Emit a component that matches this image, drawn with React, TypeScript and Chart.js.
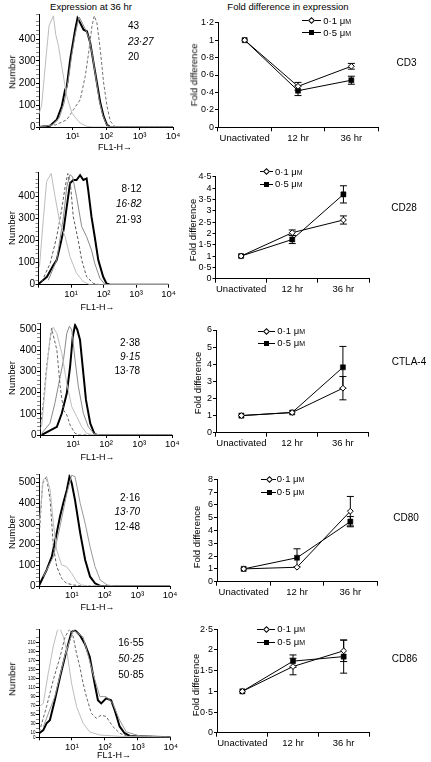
import React, { useEffect, useRef } from 'react';
import { Chart, registerables } from 'chart.js';
Chart.register(...registerables);

const FONT = '"Liberation Sans", Arial, Helvetica, sans-serif';
Chart.defaults.font.family = FONT;
Chart.defaults.color = '#000';

// ---------- Histogram axes ----------
const decadeTicks = [0, 1, 2, 3, 4];
const decadeLabels = ['', '10¹', '10²', '10³', '10⁴'];
const countLabels = [0, 100, 200, 300, 400, 500];
const cd86CountLabels = [0, 10, 30, 50, 70, 90, 110, 130, 150, 170, 190, 210, 230];

// ---------- Histogram curves: [log10 FL1-H, count] ----------
const cd3Iso = [[0, 60], [0.08, 100], [0.2, 300], [0.3, 460], [0.43, 505], [0.5, 420], [0.58, 370], [0.68, 275], [0.83, 140], [0.98, 64], [1.1, 40], [1.23, 18], [1.43, 3], [1.6, 0], [4, 0]];
const cd3Mid = [[0, 0], [0.4, 10], [0.6, 40], [0.75, 110], [0.88, 220], [0.98, 330], [1.08, 420], [1.15, 470], [1.2, 500], [1.3, 470], [1.4, 440], [1.5, 400], [1.6, 320], [1.7, 220], [1.8, 120], [1.9, 55], [2.0, 15], [2.1, 0], [4, 0]];
const cd3Dash = [[0, 0], [0.5, 10], [0.83, 33], [1.03, 79], [1.23, 124], [1.38, 230], [1.48, 336], [1.58, 457], [1.65, 505], [1.73, 473], [1.83, 350], [1.93, 200], [2.03, 94], [2.13, 26], [2.28, 0], [4, 0]];
const cd3Bold = [[0, 0], [0.33, 6], [0.53, 33], [0.68, 94], [0.78, 170], [0.83, 185], [0.93, 306], [1.03, 397], [1.08, 442], [1.15, 495], [1.23, 473], [1.33, 442], [1.43, 435], [1.53, 382], [1.63, 290], [1.73, 200], [1.83, 110], [1.93, 48], [2.03, 10], [2.13, 0], [4, 0]];

const cd28Iso = [[0.03, 82], [0.15, 300], [0.25, 470], [0.39, 506], [0.51, 400], [0.66, 279], [0.82, 218], [0.97, 127], [1.17, 52], [1.38, 14], [1.58, 0], [4, 0]];
const cd28Dash = [[0.1, 14], [0.36, 97], [0.56, 218], [0.71, 340], [0.82, 445], [0.9, 505], [0.99, 445], [1.07, 309], [1.22, 203], [1.33, 112], [1.48, 36], [1.69, 6], [1.9, 0], [4, 0]];
const cd28Mid = [[0.3, 20], [0.56, 112], [0.77, 309], [0.87, 445], [0.97, 500], [1.05, 490], [1.17, 400], [1.33, 264], [1.48, 218], [1.63, 158], [1.73, 97], [1.89, 29], [2.05, 0], [4, 0]];
const cd28Bold = [[0, 3], [0.26, 36], [0.46, 89], [0.56, 112], [0.66, 173], [0.77, 248], [0.87, 355], [0.97, 461], [1.07, 476], [1.17, 476], [1.28, 498], [1.38, 476], [1.48, 483], [1.53, 430], [1.63, 309], [1.73, 218], [1.84, 112], [1.99, 36], [2.09, 6], [2.2, 0], [4, 0]];

const ctla4Iso = [[0.05, 39], [0.2, 300], [0.3, 460], [0.4, 510], [0.51, 480], [0.66, 386], [0.81, 244], [0.96, 134], [1.11, 87], [1.26, 39], [1.41, 8], [1.6, 0], [4, 0]];
const ctla4Dash = [[0, 24], [0.1, 150], [0.2, 323], [0.35, 505], [0.51, 402], [0.61, 229], [0.71, 118], [0.81, 95], [0.91, 47], [1.06, 8], [1.2, 0], [4, 0]];
const ctla4Mid = [[0.05, 8], [0.3, 55], [0.45, 150], [0.61, 276], [0.71, 355], [0.81, 481], [0.89, 515], [0.96, 497], [1.06, 355], [1.16, 229], [1.31, 103], [1.46, 39], [1.62, 8], [1.8, 0], [4, 0]];
const ctla4Bold = [[0.05, 0], [0.51, 39], [0.66, 103], [0.81, 197], [0.91, 323], [0.99, 465], [1.06, 520], [1.13, 497], [1.21, 450], [1.29, 323], [1.39, 166], [1.52, 55], [1.64, 8], [1.72, 0], [4, 0]];

const cd80Iso = [[0.01, 303], [0.13, 513], [0.23, 530], [0.34, 465], [0.44, 303], [0.54, 174], [0.69, 102], [0.84, 94], [1.0, 61], [1.15, 21], [1.3, 5], [1.5, 0], [4, 0]];
const cd80Dash = [[0.01, 255], [0.11, 497], [0.23, 529], [0.34, 416], [0.44, 190], [0.54, 94], [0.69, 37], [0.84, 13], [1.05, 5], [1.3, 0], [4, 0]];
const cd80Mid = [[0.13, 45], [0.44, 142], [0.64, 287], [0.85, 448], [1.0, 537], [1.1, 529], [1.26, 400], [1.41, 303], [1.56, 190], [1.71, 94], [1.87, 29], [2.08, 5], [2.3, 0], [4, 0]];
const cd80Bold = [[0.01, 5], [0.23, 77], [0.39, 142], [0.54, 255], [0.64, 335], [0.74, 400], [0.85, 465], [0.93, 529], [1.0, 497], [1.1, 416], [1.26, 255], [1.41, 126], [1.56, 45], [1.71, 13], [1.87, 0], [4, 0]];

const cd86Iso = [[0.01, 68], [0.13, 75], [0.28, 141], [0.43, 200], [0.56, 237], [0.64, 240], [0.74, 222], [0.84, 193], [0.99, 119], [1.14, 68], [1.34, 31], [1.54, 12], [1.85, 5], [2.5, 2], [4, 0]];
const cd86Dash = [[0.01, 12], [0.23, 68], [0.43, 126], [0.64, 178], [0.79, 222], [0.94, 240], [1.04, 222], [1.14, 185], [1.24, 156], [1.34, 119], [1.44, 90], [1.59, 53], [1.74, 42], [1.89, 49], [2.04, 46], [2.24, 24], [2.45, 9], [2.65, 3], [4, 0]];
const cd86Mid = [[0.13, 23], [0.48, 90], [0.79, 182], [1.04, 237], [1.34, 222], [1.64, 141], [1.85, 90], [2.04, 90], [2.24, 75], [2.45, 38], [2.65, 12], [3.06, 3], [4, 0]];
const cd86Bold = [[0.01, 9], [0.13, 16], [0.23, 31], [0.33, 38], [0.48, 82], [0.64, 134], [0.79, 178], [0.89, 207], [0.99, 233], [1.09, 237], [1.24, 226], [1.39, 207], [1.54, 178], [1.69, 119], [1.79, 82], [1.89, 75], [2.04, 86], [2.19, 82], [2.3, 60], [2.45, 24], [2.6, 9], [2.76, 3], [4, 0]];

// ---------- Fold difference ----------
const timepoints = ['Unactivated', '12 hr', '36 hr'];

const cd3Low = [1, 0.47, 0.70];
const cd3LowErr = [0, 0.045, 0.033];
const cd3High = [1, 0.42, 0.54];
const cd3HighErr = [0, 0.056, 0.046];
const cd3Ticks = ['0', '0·2', '0·4', '0·6', '0·8', '1', '1·2'];

const cd28Low = [1, 2.03, 2.59];
const cd28LowErr = [0, 0.12, 0.18];
const cd28High = [1, 1.73, 3.72];
const cd28HighErr = [0, 0.18, 0.38];
const cd28Ticks = ['0', '0·5', '1', '1·5', '2', '2·5', '3', '3·5', '4', '4·5'];

const ctla4Low = [1, 1.18, 2.6];
const ctla4LowErr = [0, 0, 0.68];
const ctla4High = [1, 1.18, 3.82];
const ctla4HighErr = [0, 0, 1.22];
const ctla4Ticks = ['0', '1', '2', '3', '4', '5', '6'];

const cd80Low = [1, 1.13, 5.51];
const cd80LowErr = [0, 0, 1.15];
const cd80High = [1, 1.87, 4.69];
const cd80HighErr = [0, 0.7, 0.4];
const cd80Ticks = ['0', '1', '2', '3', '4', '5', '6', '7', '8'];

const cd86Low = [1, 1.6, 1.98];
const cd86LowErr = [0, 0.2, 0.26];
const cd86High = [1, 1.73, 1.84];
const cd86HighErr = [0, 0.15, 0.4];
const cd86Ticks = ['0', '0·5', '1', '1·5', '2', '2·5'];

// ---------- helpers ----------
function geom(L: number, R: number, top: number, y0: number, axisW: number, axisH: number, padT: number, padR: number) {
  const left = Math.max(0, Math.floor(L - axisW));
  const ctop = Math.floor(top - padT);
  const w = Math.ceil(R + padR) - left;
  const h = Math.ceil(y0 + axisH) - ctop;
  return { left, top: ctop, w, h, yW: L - left, xH: ctop + h - y0, pT: top - ctop, pR: left + w - R };
}

type Curve = { pts: number[][]; color: string; width: number; dash?: number[] };

function HistChart(props: { L: number; R: number; y0: number; yRef: number; refVal: number; yMax: number; yStep: number; yLabels: number[]; yFont: number; curves: Curve[] }) {
  const ref = useRef<HTMLCanvasElement | null>(null);
  const { L, R, y0, yRef, refVal, yMax, yStep, yLabels, yFont, curves } = props;
  const ppu = (y0 - yRef) / refVal;
  const top = y0 - yMax * ppu;
  const g = geom(L, R, top, y0, L, 18, 8, 14);
  useEffect(() => {
    const chart = new Chart(ref.current as HTMLCanvasElement, {
      type: 'line',
      data: {
        datasets: curves.map((c) => ({
          data: c.pts.map((p) => ({ x: p[0], y: p[1] })),
          borderColor: c.color,
          borderWidth: c.width,
          borderDash: c.dash || [],
          pointRadius: 0,
          tension: 0,
          fill: false,
        })),
      },
      options: {
        animation: false,
        responsive: false,
        devicePixelRatio: 1,
        layout: { padding: { top: g.pT, right: g.pR, left: 0, bottom: 0 } },
        plugins: { legend: { display: false }, tooltip: { enabled: false } },
        scales: {
          x: {
            type: 'linear', min: 0, max: 4,
            afterFit: (s: any) => { s.height = g.xH; },
            afterBuildTicks: (s: any) => { s.ticks = decadeTicks.map((v) => ({ value: v })); },
            ticks: { font: { size: 9.5 }, padding: 1, maxRotation: 0, autoSkip: false, callback: (v: any) => decadeLabels[decadeTicks.indexOf(Number(v))] ?? '' },
            grid: { drawOnChartArea: false, tickLength: 3, tickColor: '#000' },
            border: { color: '#000', width: 1 },
          },
          y: {
            min: 0, max: yMax,
            afterFit: (s: any) => { s.width = g.yW; },
            ticks: { stepSize: yStep, autoSkip: false, font: { size: yFont }, padding: 0.5, callback: (v: any) => (yLabels.includes(Number(v)) ? String(v) : '') },
            grid: { drawOnChartArea: false, tickLength: 3, tickColor: (c: any) => (yLabels.includes(c.tick?.value) ? '#000' : '#888') },
            border: { color: '#000', width: 1 },
          },
        },
      } as any,
    });
    return () => chart.destroy();
  }, []);
  return <canvas ref={ref} width={g.w} height={g.h} style={{ position: 'absolute', left: g.left, top: g.top, width: g.w, height: g.h }} />;
}

const errorBarPlugin = {
  id: 'errbars',
  beforeDatasetsDraw(chart: any) {
    const ctx = chart.ctx;
    const ys = chart.scales.y;
    chart.data.datasets.forEach((ds: any, di: number) => {
      const meta = chart.getDatasetMeta(di);
      const errs = ds.errors as number[];
      if (!errs) return;
      meta.data.forEach((pt: any, i: number) => {
        const e = errs[i];
        if (!e) return;
        const v = ds.data[i];
        const x = pt.x;
        const yT = ys.getPixelForValue(v + e);
        const yB = ys.getPixelForValue(v - e);
        ctx.save();
        ctx.strokeStyle = '#000';
        ctx.lineWidth = 1;
        ctx.beginPath();
        ctx.moveTo(x, yT); ctx.lineTo(x, yB);
        ctx.moveTo(x - 3.5, yT); ctx.lineTo(x + 3.5, yT);
        ctx.moveTo(x - 3.5, yB); ctx.lineTo(x + 3.5, yB);
        ctx.stroke();
        ctx.restore();
      });
    });
  },
};

function FoldChart(props: { L: number; R: number; y0: number; top: number; yMax: number; yStep: number; tickLabels: string[]; low: number[]; lowErr: number[]; high: number[]; highErr: number[] }) {
  const ref = useRef<HTMLCanvasElement | null>(null);
  const { L, R, y0, top, yMax, yStep, tickLabels, low, lowErr, high, highErr } = props;
  const g = geom(L, R, top, y0, 40, 20, 8, 10);
  useEffect(() => {
    const chart = new Chart(ref.current as HTMLCanvasElement, {
      type: 'line',
      data: {
        labels: timepoints,
        datasets: [
          { label: '0·1 μM', data: low, errors: lowErr, borderColor: '#000', borderWidth: 1, tension: 0, pointStyle: 'rectRot', pointRadius: 2.9, pointBackgroundColor: '#fff', pointBorderColor: '#000', pointBorderWidth: 1 },
          { label: '0·5 μM', data: high, errors: highErr, borderColor: '#000', borderWidth: 1, tension: 0, pointStyle: 'rect', pointRadius: 3.6, pointBackgroundColor: '#000', pointBorderColor: '#000', pointBorderWidth: 0.5 },
        ] as any,
      },
      options: {
        animation: false,
        responsive: false,
        devicePixelRatio: 1,
        layout: { padding: { top: g.pT, right: g.pR, left: 0, bottom: 0 } },
        plugins: { legend: { display: false }, tooltip: { enabled: false } },
        scales: {
          x: {
            type: 'category', offset: true,
            afterFit: (s: any) => { s.height = g.xH; },
            ticks: { font: { size: 9.5 }, padding: 1, maxRotation: 0, autoSkip: false },
            grid: { offset: true, drawOnChartArea: false, tickLength: 4, tickColor: '#000' },
            border: { color: '#000', width: 1 },
          },
          y: {
            min: 0, max: yMax,
            afterFit: (s: any) => { s.width = g.yW; },
            ticks: { stepSize: yStep, autoSkip: false, font: { size: 9 }, padding: 1, callback: (_v: any, i: number) => tickLabels[i] ?? '' },
            grid: { drawOnChartArea: false, tickLength: 3, tickColor: '#000' },
            border: { color: '#000', width: 1 },
          },
        },
      } as any,
      plugins: [errorBarPlugin],
    });
    return () => chart.destroy();
  }, []);
  return <canvas ref={ref} width={g.w} height={g.h} style={{ position: 'absolute', left: g.left, top: g.top, width: g.w, height: g.h }} />;
}

function Txt(p: { x: number; y: number; text: string; size?: number; align?: 'left' | 'center' | 'right'; italic?: boolean; rotate?: boolean }) {
  const a = p.align || 'center';
  const tx = a === 'center' ? '-50%' : a === 'right' ? '-100%' : '0';
  return (
    <div style={{ position: 'absolute', left: p.x, top: p.y, transform: `translate(${tx},-50%)${p.rotate ? ' rotate(-90deg)' : ''}`, fontSize: p.size || 9.5, fontStyle: p.italic ? 'italic' : 'normal', whiteSpace: 'nowrap', lineHeight: 1, fontFamily: FONT, color: '#000' }}>
      {p.text}
    </div>
  );
}

function LegendRows(p: { x1: number; x2: number; mx: number; tx: number; y1: number; y2: number }) {
  const line = (y: number) => <div style={{ position: 'absolute', left: p.x1, top: y - 0.5, width: p.x2 - p.x1, height: 1, background: '#000' }} />;
  const label = (y: number, txt: string) => (
    <div style={{ position: 'absolute', left: p.tx, top: y, transform: 'translateY(-50%)', fontSize: 9.5, lineHeight: 1, whiteSpace: 'nowrap', fontFamily: FONT }}>
      {txt} μ<span style={{ fontSize: 7 }}>M</span>
    </div>
  );
  return (
    <>
      {line(p.y1)}
      <div style={{ position: 'absolute', left: p.mx - 2.5, top: p.y1 - 2.5, width: 3, height: 3, border: '1px solid #000', background: '#fff', transform: 'rotate(45deg)' }} />
      {label(p.y1, '0·1')}
      {line(p.y2)}
      <div style={{ position: 'absolute', left: p.mx - 2.5, top: p.y2 - 2.5, width: 5, height: 5, background: '#000' }} />
      {label(p.y2, '0·5')}
    </>
  );
}

const ISO = '#bdbdbd';

export default function App() {
  return (
    <div style={{ position: 'absolute', left: 0, top: 0, width: 431, height: 762, background: '#fff', overflow: 'hidden', fontFamily: FONT }}>
      <Txt x={91} y={7} text="Expression at 36 hr" />
      <Txt x={288} y={7} text="Fold difference in expression" />

      {/* Row 1: CD3 */}
      <HistChart L={39} R={173} y0={127} yRef={17} refVal={500} yMax={510} yStep={20} yLabels={countLabels} yFont={10}
        curves={[{ pts: cd3Iso, color: ISO, width: 1 }, { pts: cd3Mid, color: '#8a8a8a', width: 1 }, { pts: cd3Dash, color: '#707070', width: 1, dash: [3, 2] }, { pts: cd3Bold, color: '#000', width: 2 }]} />
      <Txt x={128} y={26} text="43" align="left" size={10} />
      <Txt x={128} y={42.3} text="23·27" align="left" size={10} italic />
      <Txt x={128} y={57.3} text="20" align="left" size={10} />
      <Txt x={115} y={147} text="FL1-H→" size={9} />
      <Txt x={12} y={72} text="Number" rotate />
      <FoldChart L={218} R={378} y0={127.3} top={22.7} yMax={1.2} yStep={0.2} tickLabels={cd3Ticks} low={cd3Low} lowErr={cd3LowErr} high={cd3High} highErr={cd3HighErr} />
      <LegendRows x1={302} x2={321} mx={311.7} tx={323.3} y1={20.7} y2={32.7} />
      <Txt x={194} y={75} text="Fold difference" rotate />
      <Txt x={406.5} y={62.7} text="CD3" size={10} />

      {/* Row 2: CD28 */}
      <HistChart L={38.5} R={168.5} y0={284.7} yRef={174.7} refVal={500} yMax={510} yStep={20} yLabels={countLabels} yFont={10}
        curves={[{ pts: cd28Iso, color: ISO, width: 1 }, { pts: cd28Dash, color: '#5a5a5a', width: 1, dash: [3, 2] }, { pts: cd28Mid, color: '#8a8a8a', width: 1 }, { pts: cd28Bold, color: '#000', width: 2 }]} />
      <Txt x={141.5} y={189.3} text="8·12" align="right" size={10} />
      <Txt x={141.5} y={204} text="16·82" align="right" size={10} italic />
      <Txt x={141.5} y={220} text="21·93" align="right" size={10} />
      <Txt x={97.5} y={306.7} text="FL1-H→" size={9} />
      <Txt x={12} y={228} text="Number" rotate />
      <FoldChart L={215.5} R={369} y0={278.7} top={176.7} yMax={4.5} yStep={0.5} tickLabels={cd28Ticks} low={cd28Low} lowErr={cd28LowErr} high={cd28High} highErr={cd28HighErr} />
      <LegendRows x1={260} x2={273} mx={266.7} tx={275} y1={171.7} y2={184} />
      <Txt x={193} y={230} text="Fold difference" rotate />
      <Txt x={404} y={208} text="CD28" size={10} />

      {/* Row 3: CTLA-4 */}
      <HistChart L={40} R={172.3} y0={435} yRef={329.3} refVal={500} yMax={528} yStep={20} yLabels={countLabels} yFont={10}
        curves={[{ pts: ctla4Iso, color: ISO, width: 1 }, { pts: ctla4Dash, color: '#666', width: 1, dash: [3, 2] }, { pts: ctla4Mid, color: '#8a8a8a', width: 1 }, { pts: ctla4Bold, color: '#000', width: 2 }]} />
      <Txt x={140} y={342.7} text="2·38" align="right" size={10} />
      <Txt x={140} y={356.7} text="9·15" align="right" size={10} italic />
      <Txt x={140} y={371} text="13·78" align="right" size={10} />
      <Txt x={97.5} y={456.7} text="FL1-H→" size={9} />
      <Txt x={12} y={378} text="Number" rotate />
      <FoldChart L={216} R={368.3} y0={432.7} top={330} yMax={6} yStep={1} tickLabels={ctla4Ticks} low={ctla4Low} lowErr={ctla4LowErr} high={ctla4High} highErr={ctla4HighErr} />
      <LegendRows x1={257.7} x2={275} mx={266.7} tx={277.3} y1={331} y2={343.3} />
      <Txt x={198} y={383} text="Fold difference" rotate />
      <Txt x={409} y={361.7} text="CTLA-4" size={10} />

      {/* Row 4: CD80 */}
      <HistChart L={39} R={170} y0={586} yRef={482.7} refVal={500} yMax={540} yStep={20} yLabels={countLabels} yFont={10}
        curves={[{ pts: cd80Iso, color: ISO, width: 1 }, { pts: cd80Dash, color: '#5a5a5a', width: 1, dash: [3, 2] }, { pts: cd80Mid, color: '#999', width: 1 }, { pts: cd80Bold, color: '#000', width: 2 }]} />
      <Txt x={140} y={497.7} text="2·16" align="right" size={10} />
      <Txt x={140} y={511.7} text="13·70" align="right" size={10} italic />
      <Txt x={140} y={526.7} text="12·48" align="right" size={10} />
      <Txt x={97.5} y={606.7} text="FL1-H→" size={9} />
      <Txt x={12} y={531.7} text="Number" rotate />
      <FoldChart L={217} R={377} y0={581.7} top={479.3} yMax={8} yStep={1} tickLabels={cd80Ticks} low={cd80Low} lowErr={cd80LowErr} high={cd80High} highErr={cd80HighErr} />
      <LegendRows x1={261} x2={275.7} mx={269} tx={276.7} y1={479.3} y2={492.3} />
      <Txt x={197} y={536.7} text="Fold difference" rotate />
      <Txt x={406} y={518.3} text="CD80" size={10} />

      {/* Row 5: CD86 */}
      <HistChart L={39} R={170.7} y0={737.3} yRef={633.3} refVal={230} yMax={238} yStep={10} yLabels={cd86CountLabels} yFont={4.5}
        curves={[{ pts: cd86Iso, color: ISO, width: 1 }, { pts: cd86Dash, color: '#666', width: 1, dash: [3, 2] }, { pts: cd86Mid, color: '#999', width: 1 }, { pts: cd86Bold, color: '#000', width: 2 }]} />
      <Txt x={118.3} y={643.3} text="16·55" align="left" size={10} />
      <Txt x={118.3} y={659} text="50·25" align="left" size={10} italic />
      <Txt x={118.3} y={675} text="50·85" align="left" size={10} />
      <Txt x={114} y={755} text="FL1-H→" size={9} />
      <Txt x={12} y={679} text="Number" rotate />
      <FoldChart L={217} R={369} y0={732.7} top={629.3} yMax={2.5} yStep={0.5} tickLabels={cd86Ticks} low={cd86Low} lowErr={cd86LowErr} high={cd86High} highErr={cd86HighErr} />
      <LegendRows x1={256.7} x2={275} mx={266.7} tx={277.3} y1={629.3} y2={642.3} />
      <Txt x={196} y={685} text="Fold difference" rotate />
      <Txt x={404.5} y={659} text="CD86" size={10} />
    </div>
  );
}
